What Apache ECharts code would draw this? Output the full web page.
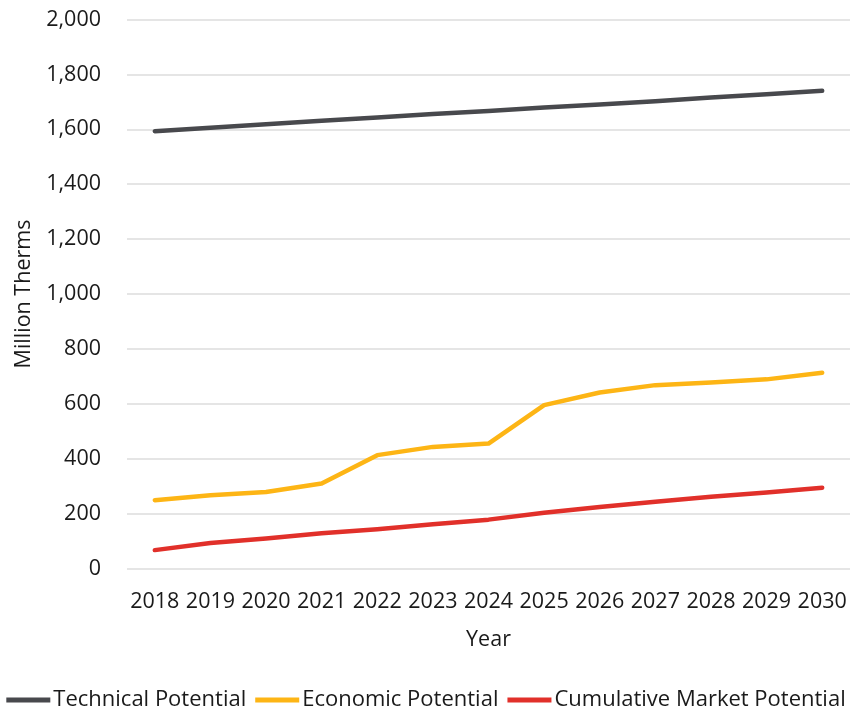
<!DOCTYPE html>
<html><head><meta charset="utf-8">
<script src="https://cdn.jsdelivr.net/npm/echarts@6/dist/echarts.min.js"></script>
<style>html,body{margin:0;padding:0;background:#fff}#c{width:852px;height:713px}</style>
</head><body><div id="c"></div>
<script>
var years = ['2018','2019','2020','2021','2022','2023','2024','2025','2026','2027','2028','2029','2030'];
var technical = [1593,1606,1618,1631,1643,1656,1667,1679,1690,1702,1716,1728,1740];
var economic = [249,267,279,310,413,443,455,595,641,668,678,689,713];
var market = [67,93,109,128,143,161,178,203,224,243,261,277,294];
var seriesNames = ['Technical Potential','Economic Potential','Cumulative Market Potential'];
var colors = ['#48494d','#fdb515','#e1302a'];
var font = '"Open Sans", sans-serif';
var chart = echarts.init(document.getElementById('c'));
function mk(i, data){
  return {name: seriesNames[i], type:'line', data:data, symbol:'none',
    lineStyle:{width:4.5, color:colors[i], cap:'round', join:'round'}, itemStyle:{color:colors[i]}};
}
chart.setOption({
  animation:false,
  textStyle:{fontFamily:font},
  grid:{left:127, right:2, top:19.5, bottom:144.5},
  legend:{left:'center', bottom:-3, itemWidth:44, itemHeight:5, itemGap:9, icon:'rect',
    textStyle:{fontSize:22, color:'#1a1a1a', fontFamily:font, padding:[0,0,0,-2]},
    data: seriesNames},
  xAxis:{type:'category', data:years, boundaryGap:true,
    name:'Year', nameLocation:'middle', nameGap:60,
    nameTextStyle:{fontSize:21.5, color:'#1a1a1a', fontFamily:font},
    axisLine:{show:false}, axisTick:{show:false},
    axisLabel:{fontSize:21.5, color:'#1a1a1a', margin:22, fontFamily:font, interval:0}},
  yAxis:{type:'value', min:0, max:2000, interval:200,
    name:'Million Therms', nameLocation:'middle', nameGap:85, nameRotate:90,
    nameTextStyle:{fontSize:21.5, color:'#1a1a1a', fontFamily:font},
    axisLine:{show:false}, axisTick:{show:false},
    splitLine:{lineStyle:{color:'#dcdcdc', width:1.5}},
    axisLabel:{fontSize:21.5, color:'#1a1a1a', margin:26, fontFamily:font,
      formatter:function(v){return v.toLocaleString('en-US');}}},
  series:[mk(0,technical), mk(1,economic), mk(2,market)]
});
</script></body></html>
